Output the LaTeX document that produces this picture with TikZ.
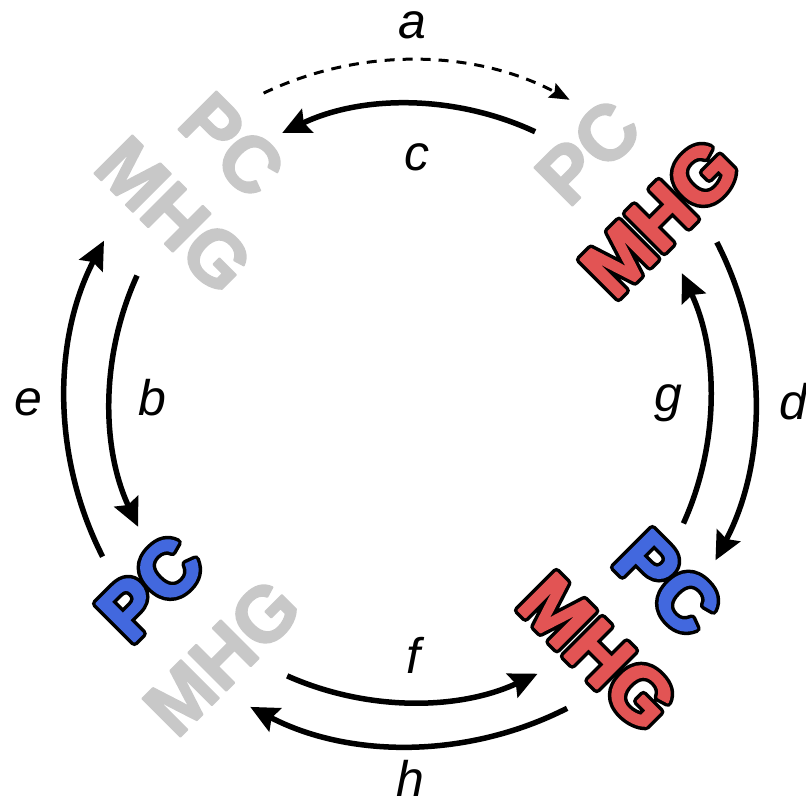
\documentclass[tikz,border=0pt]{standalone}
\usepackage{fontspec}
\setmainfont{Liberation Sans}
\newfontface\molfont{Liberation Sans Bold}
\newfontface\molrim[FakeBold=11.5]{Liberation Sans Bold}
\newfontface\molthick[FakeBold=2.5]{Liberation Sans Bold}
\usetikzlibrary{arrows.meta}

\definecolor{mhgred}{RGB}{226,84,84}
\definecolor{pcblue}{RGB}{66,104,222}
\definecolor{offgray}{RGB}{200,200,200}

\newcommand{\ontxt}[2]{\rlap{\molrim\color{black}#2}\textcolor{#1}{\molthick #2}}
\newcommand{\offtxt}[1]{\textcolor{offgray}{\molthick #1}}

\begin{document}
\begin{tikzpicture}
[x=1pt,y=1pt,%
  mol/.style={inner sep=0pt,line join=round,font=\fontsize{78}{78}\selectfont},%
  lbl/.style={inner sep=0pt,font=\fontsize{50}{50}\selectfont\itshape},%
  flux/.style={line width=5.5pt,-{Stealth[length=28pt,width=26pt,inset=4pt]}},%
  slow/.style={line width=3pt,dash pattern=on 10pt off 8pt,-{Stealth[length=20pt,width=16pt,inset=3pt]}}]
\useasboundingbox (0,0) rectangle (806,803);
\coordinate (O) at (410,403);
% complexes
\node[mol,rotate=-45] (pc1) at (232,658) {\offtxt{PC}};
\node[mol,rotate=-45] (mhg1) at (174,588) {\offtxt{MHG}};
\node[mol,rotate=45] (pc2) at (588,651) {\offtxt{PC}};
\node[mol,rotate=45] (mhg2) at (660,585) {\ontxt{mhgred}{MHG}};
\node[mol,rotate=-45] (pc3) at (668,220) {\ontxt{pcblue}{PC}};
\node[mol,rotate=-45] (mhg3) at (598,151) {\ontxt{mhgred}{MHG}};
\node[mol,rotate=45] (pc4) at (150,215) {\ontxt{pcblue}{PC}};
\node[mol,rotate=45] (mhg4) at (222,146) {\offtxt{MHG}};
% transitions
\path (O) ++(115.5:340) coordinate (a0);
\draw[slow] (a0) arc[start angle=115.5,end angle=62,radius=340];
\foreach \nm/\sa/\ea/\r in {c/65/115.6/296,e/207/152.5/345,b/155.5/205/300,%
  d/27.2/-27.7/345,g/-24.3/25/300,f/246/295/302,h/297/242.5/346}
{
  \path (O) ++(\sa:\r) coordinate (\nm0);
  \draw[flux] (\nm0) arc[start angle=\sa,end angle=\ea,radius=\r];
}
\node[lbl] (la) at (412,778) {a};
\node[lbl] (lc) at (417,646) {c};
\node[lbl] (le) at (28,401) {e};
\node[lbl] (lb) at (152,405) {b};
\node[lbl] (lg) at (668,400) {g};
\node[lbl] (ld) at (793,401) {d};
\node[lbl] (lf) at (413,148) {f};
\node[lbl] (lh) at (410,25) {h};
\end{tikzpicture}
\end{document}
